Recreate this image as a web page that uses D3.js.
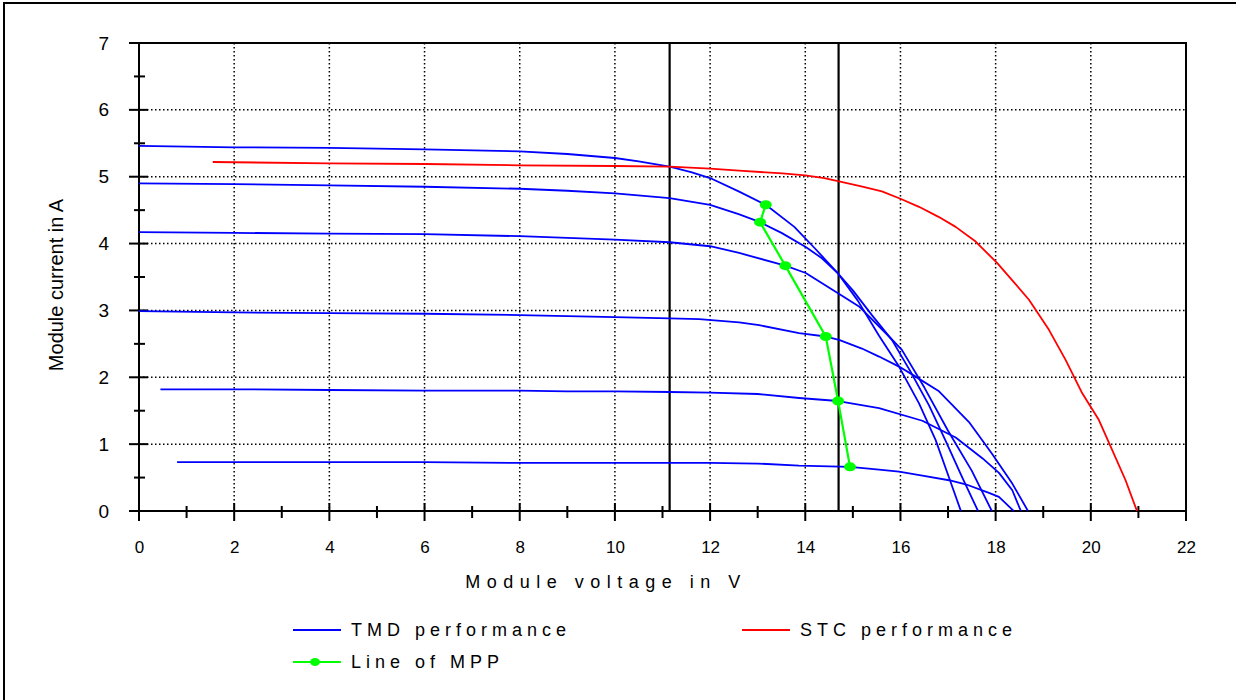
<!DOCTYPE html>
<html><head><meta charset="utf-8">
<script src="https://cdn.jsdelivr.net/npm/d3@7"></script>
<style>
html,body{margin:0;padding:0;background:#fff;}
svg{display:block;font-family:"Liberation Sans",Arial,sans-serif;}
</style></head>
<body>
<svg id="c" width="1236" height="700"></svg>
<script>
// ---- data (voltage V, current A) ----
const xTicks = [0,2,4,6,8,10,12,14,16,18,20,22];
const yTicks = [0,1,2,3,4,5,6,7];
const tmdA = [[0,5.46],[2,5.44],[4,5.43],[6,5.41],[8,5.38],[9,5.34],[10,5.28],[10.5,5.23],[11.15,5.15],[11.6,5.07],[12,4.98],[12.6,4.78],[13.17,4.58],[13.77,4.25],[14.2,3.93],[14.68,3.56],[15.1,3.15],[15.55,2.62],[15.97,2.16],[16.39,1.61],[16.74,1.06],[17.02,0.5],[17.27,0]];
const tmdB = [[0,4.9],[2,4.89],[4,4.87],[6,4.85],[8,4.82],[9,4.79],[10,4.75],[11.15,4.68],[12,4.58],[12.6,4.44],[13.05,4.32],[13.5,4.16],[14.01,3.95],[14.35,3.78],[14.68,3.56],[15.0,3.3],[15.4,2.93],[15.82,2.56],[16.2,2.1],[16.6,1.58],[16.95,1.05],[17.3,0.5],[17.63,0]];
const tmdC = [[0,4.17],[2,4.16],[4,4.15],[6,4.14],[8,4.11],[10,4.06],[11.15,4.02],[12,3.96],[12.61,3.86],[13.58,3.67],[14.01,3.56],[14.68,3.26],[15.13,3.06],[15.76,2.61],[16.03,2.41],[16.5,1.85],[17.0,1.2],[17.5,0.6],[17.92,0]];
const tmdD = [[0,2.99],[2,2.97],[4,2.96],[6,2.95],[8,2.93],[10,2.9],[11.15,2.88],[11.77,2.87],[12.61,2.82],[13.03,2.78],[13.87,2.66],[14.43,2.61],[14.71,2.56],[15.19,2.43],[15.55,2.31],[15.97,2.16],[16.25,2.04],[16.81,1.79],[17.44,1.33],[17.92,0.86],[18.35,0.41],[18.68,0]];
const tmdE = [[0.45,1.82],[2,1.82],[4,1.81],[6,1.8],[8,1.8],[9,1.79],[10,1.79],[11.15,1.78],[12,1.77],[13,1.75],[13.87,1.69],[14.69,1.645],[15.55,1.54],[16.46,1.35],[17.16,1.1],[17.72,0.79],[18.07,0.57],[18.35,0.31],[18.53,0]];
const tmdF = [[0.8,0.73],[2,0.73],[4,0.73],[6,0.73],[8,0.72],[10,0.72],[11.15,0.72],[12,0.72],[13,0.71],[13.87,0.68],[14.94,0.66],[15.55,0.62],[15.97,0.59],[16.46,0.53],[17.02,0.46],[17.37,0.4],[17.86,0.27],[18.07,0.21],[18.38,0]];
const stc = [[1.55,5.22],[4,5.2],[6,5.19],[8,5.17],[10,5.16],[11.15,5.15],[12,5.12],[12.61,5.09],[13.52,5.05],[14.0,5.02],[14.4,4.98],[14.71,4.93],[15.2,4.85],[15.61,4.78],[16.0,4.67],[16.39,4.55],[16.8,4.4],[17.16,4.25],[17.58,4.03],[18.03,3.71],[18.35,3.45],[18.7,3.16],[19.12,2.71],[19.47,2.26],[19.82,1.76],[20.17,1.36],[20.45,0.91],[20.73,0.46],[20.97,0]];
const mpp = [[13.17,4.58],[13.05,4.32],[13.58,3.67],[14.43,2.61],[14.69,1.645],[14.94,0.66]];
const markerV = [11.15,14.7];
const legendItems = ["TMD performance","STC performance","Line of MPP"];

const svg = d3.select("#c");
const x = d3.scaleLinear().domain([0,22]).range([139,1186]);
const y = d3.scaleLinear().domain([0,7]).range([511,43]);

// outer frame
svg.append("path").attr("d","M4,700 V3 H1236").attr("fill","none").attr("stroke","#000").attr("stroke-width",2);

// grid
const g = svg.append("g");
g.selectAll(".gx").data(xTicks.filter(d=>d>0&&d<22)).enter().append("line")
  .attr("x1",d=>x(d)).attr("x2",d=>x(d)).attr("y1",y(7)).attr("y2",y(0))
  .attr("stroke","#000").attr("stroke-width",1.5).attr("stroke-dasharray","1.5,2.5");
g.selectAll(".gy").data(yTicks.filter(d=>d>0&&d<7)).enter().append("line")
  .attr("x1",x(0)).attr("x2",x(22)).attr("y1",d=>y(d)).attr("y2",d=>y(d))
  .attr("stroke","#000").attr("stroke-width",1.5).attr("stroke-dasharray","1.5,2.5");

// frame of plot
svg.append("rect").attr("x",x(0)).attr("y",y(7)).attr("width",x(22)-x(0)).attr("height",y(0)-y(7))
  .attr("fill","none").attr("stroke","#000").attr("stroke-width",2);

// axes with crossing ticks
const xAxis = d3.axisBottom(x).tickValues(xTicks).tickSize(0).tickPadding(30).tickFormat(d3.format("d"));
const xa = svg.append("g").attr("transform",`translate(0,${y(0)})`).call(xAxis);
xa.select(".domain").remove();
xa.selectAll("text").attr("font-size",17).attr("font-family","Liberation Sans, Arial").attr("fill","#000");
const yAxis = d3.axisLeft(y).tickValues(yTicks).tickSize(0).tickPadding(30).tickFormat(d3.format("d"));
const ya = svg.append("g").attr("transform",`translate(${x(0)},0)`).call(yAxis);
ya.select(".domain").remove();
ya.selectAll("text").attr("font-size",19).attr("font-family","Liberation Sans, Arial").attr("fill","#000");

const xMinor = d3.range(0,23,1);
svg.append("g").selectAll("line").data(xMinor).enter().append("line")
  .attr("x1",d=>x(d)).attr("x2",d=>x(d))
  .attr("y1",d=>d%2===0? y(0)-8 : y(0)-5).attr("y2",d=>d%2===0? y(0)+10 : y(0)+7)
  .attr("stroke","#000").attr("stroke-width",2);
const yMinor = d3.range(0,7.01,0.5);
svg.append("g").selectAll("line").data(yMinor).enter().append("line")
  .attr("y1",d=>y(d)).attr("y2",d=>y(d))
  .attr("x1",d=>d%1===0? x(0)-10 : x(0)-5).attr("x2",d=>d%1===0? x(0)+9 : x(0)+6)
  .attr("stroke","#000").attr("stroke-width",2);

// vertical marker lines
svg.append("g").selectAll("line").data(markerV).enter().append("line")
  .attr("x1",d=>x(d)).attr("x2",d=>x(d)).attr("y1",y(7)).attr("y2",y(0))
  .attr("stroke","#000").attr("stroke-width",2.2);

// curves
const line = d3.line().x(d=>x(d[0])).y(d=>y(d[1]));
[tmdA,tmdB,tmdC,tmdD,tmdE,tmdF].forEach(s=>{
  svg.append("path").attr("d",line(s)).attr("fill","none").attr("stroke","#0000ff").attr("stroke-width",1.8).attr("stroke-linejoin","round");
});
svg.append("path").attr("d",line(stc)).attr("fill","none").attr("stroke","#ff0000").attr("stroke-width",1.8).attr("stroke-linejoin","round");
svg.append("path").attr("d",line(mpp)).attr("fill","none").attr("stroke","#00ff00").attr("stroke-width",2.2);
svg.append("g").selectAll("ellipse").data(mpp).enter().append("ellipse")
  .attr("cx",d=>x(d[0])).attr("cy",d=>y(d[1])).attr("rx",6).attr("ry",4.5).attr("fill","#00ff00");

// axis titles
svg.append("text").attr("x",606).attr("y",588).attr("text-anchor","middle")
  .attr("font-size",18).attr("letter-spacing","6.5px").text("Module voltage in V");
svg.append("text").attr("transform","translate(63,285) rotate(-90)").attr("text-anchor","middle")
  .attr("font-size",20).text("Module current in A");

// legend
const leg = [
  {t:legendItems[0],c:"#0000ff",x:293,y:630,dot:false},
  {t:legendItems[1],c:"#ff0000",x:742,y:630,dot:false},
  {t:legendItems[2],c:"#00ff00",x:293,y:662,dot:true}
];
leg.forEach(l=>{
  svg.append("line").attr("x1",l.x).attr("x2",l.x+48).attr("y1",l.y).attr("y2",l.y).attr("stroke",l.c).attr("stroke-width",2);
  if(l.dot) svg.append("ellipse").attr("cx",l.x+22).attr("cy",l.y).attr("rx",5).attr("ry",4).attr("fill",l.c);
  svg.append("text").attr("x",l.x+58).attr("y",l.y+6).attr("font-size",18).attr("letter-spacing","5px").text(l.t);
});
</script>
</body></html>
